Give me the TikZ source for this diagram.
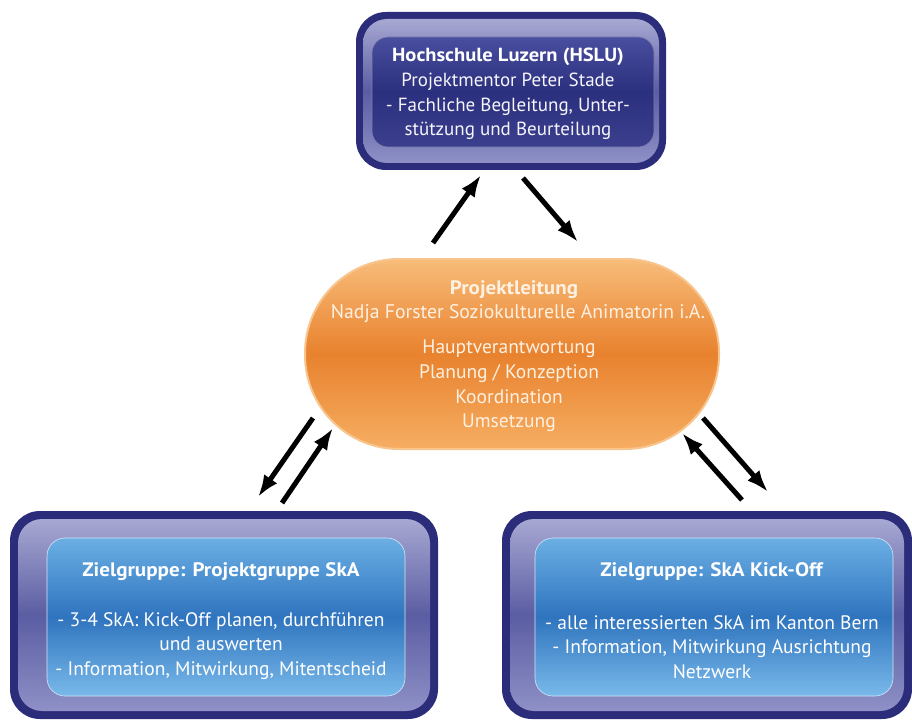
\documentclass[tikz,border=0pt]{standalone}
\usepackage{fontspec}
\setmainfont{PT Sans}[BoldFeatures={FakeStretch=1.08}]
\usetikzlibrary{arrows.meta}
\definecolor{navy}{HTML}{2B2C7A}
\definecolor{ringtop}{HTML}{A7A8D2}
\definecolor{ringmid}{HTML}{5B5DA3}
\definecolor{ringbot}{HTML}{8E90C6}
\definecolor{darktop}{HTML}{4A4E9E}
\definecolor{darkmid}{HTML}{2A2F7E}
\definecolor{darkbot}{HTML}{3B3F8E}
\definecolor{lbtop}{HTML}{6BAFE4}
\definecolor{lbmid}{HTML}{2F74BE}
\definecolor{lbbot}{HTML}{79B9EA}
\definecolor{ortop}{HTML}{F8BC7A}
\definecolor{ormid}{HTML}{E8822E}
\definecolor{orbot}{HTML}{F6AE63}
\definecolor{orrim}{HTML}{F8C58E}
\definecolor{ortext}{HTML}{FFF1E2}
\tikzset{
  outerbox/.style={draw=none, fill=navy, rounded corners=30pt},
  ringbox/.style={draw=none, rounded corners=24pt, top color=ringtop, bottom color=ringbot, middle color=ringmid},
  darkpanel/.style={draw=navy!60, line width=0.6pt, rounded corners=16pt, top color=darktop, bottom color=darkbot, middle color=darkmid},
  lightpanel/.style={draw=white!70!lbtop, line width=0.6pt, rounded corners=18pt, top color=lbtop, bottom color=lbbot, middle color=lbmid},
  pill/.style={draw=orrim, line width=2pt, rounded corners=94pt, top color=ortop, bottom color=orbot, middle color=ormid},
  txt/.style={align=center, text=white, font=\fontsize{19.5}{24.8}\selectfont},
  flow/.style={line width=5pt, -{Latex[length=22pt,width=16pt]}},
}
\begin{document}
\begin{tikzpicture}[x=1pt,y=-1pt]
\useasboundingbox[fill=white] (0,0) rectangle (912,722);
% top box
\node[outerbox, minimum width=310pt, minimum height=158pt] (hslu) at (511,91) {};
\node[ringbox, minimum width=296pt, minimum height=144pt] (hsluring) at (511,91) {};
\node[darkpanel, minimum width=282pt, minimum height=110pt] (hslupanel) at (513,92) {};
\node[txt, font=\fontsize{19}{24.8}\selectfont] (hslutext) at (508,94) {\textbf{Hochschule Luzern (HSLU)}\\
  \textcolor{white!88!ringtop}{Projektmentor Peter Stade}\\
  \textcolor{white!88!ringtop}{- Fachliche Begleitung, Unter-}\\
  \textcolor{white!88!ringtop}{stützung und Beurteilung}};
% centre pill
\node[pill, minimum width=414pt, minimum height=190pt] (pl) at (512,354) {};
\node[txt, text=ortext] (pltext0) at (514,290) {\textbf{Projektleitung}};
\node[txt, text=ortext, font=\fontsize{19.7}{24}\selectfont] (pltext1) at (518,314) {Nadja Forster Soziokulturelle Animatorin i.A.};
\node[txt, text=ortext] (pltext2) at (509,386) {Hauptverantwortung\\ Planung / Konzeption\\ Koordination\\ Umsetzung};
% bottom left
\node[outerbox, minimum width=428pt, minimum height=208pt] (pg) at (224,615) {};
\node[ringbox, minimum width=412pt, minimum height=192pt] (pgring) at (224,615) {};
\node[lightpanel, minimum width=358pt, minimum height=158pt] (pgpanel) at (226,617) {};
\node[txt] (pgtext1) at (221,572) {\textbf{Zielgruppe: Projektgruppe SkA}};
\node[txt] (pgtext2) at (221,646) {- 3-4 SkA: Kick-Off planen, durchführen\\ und auswerten\\ - Information, Mitwirkung, Mitentscheid};
% bottom right
\node[outerbox, minimum width=410pt, minimum height=208pt] (ko) at (707,615) {};
\node[ringbox, minimum width=394pt, minimum height=192pt] (koring) at (707,615) {};
\node[lightpanel, minimum width=358pt, minimum height=158pt] (kopanel) at (714,617) {};
\node[txt] (kotext1) at (712,572) {\textbf{Zielgruppe: SkA Kick-Off}};
\node[txt] (kotext2) at (712,647) {- alle interessierten SkA im Kanton Bern\\ - Information, Mitwirkung Ausrichtung\\ Netzwerk};
% arrow endpoints
\coordinate (a1s) at (433,243); \coordinate (a1e) at (481,175);
\coordinate (a2s) at (523,178); \coordinate (a2e) at (578,242);
\coordinate (b1s) at (313,418); \coordinate (b1e) at (258,497);
\coordinate (b2s) at (282,503); \coordinate (b2e) at (333,428);
\coordinate (c1s) at (703,418); \coordinate (c1e) at (768,492);
\coordinate (c2s) at (742,500); \coordinate (c2e) at (682,433);
\draw[flow] (a1s) -- (a1e);
\draw[flow] (a2s) -- (a2e);
\draw[flow] (b1s) -- (b1e);
\draw[flow] (b2s) -- (b2e);
\draw[flow] (c1s) -- (c1e);
\draw[flow] (c2s) -- (c2e);
\end{tikzpicture}
\end{document}
